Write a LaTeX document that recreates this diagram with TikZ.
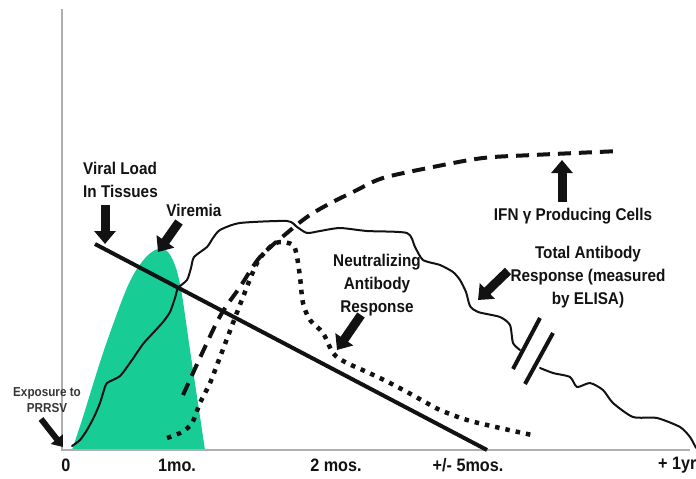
\documentclass[tikz,border=0pt]{standalone}
\usepackage{fontspec}
\setmainfont{Liberation Sans}[FakeStretch=0.9]
\usepackage{tikz}
\usetikzlibrary{arrows.meta, positioning}
\definecolor{AxisColor}{RGB}{175,175,175}
\definecolor{ViremiaColor}{RGB}{24,204,150}
\definecolor{InkColor}{RGB}{18,18,18}
\tikzstyle{axis} = [AxisColor, line width=1.5pt]
\tikzstyle{pointer} = [InkColor, line width=9pt, -{Triangle[length=13pt, width=21pt]}]
\tikzstyle{smallpointer} = [InkColor, line width=6pt, -{Triangle[length=10pt, width=15pt]}]
\tikzset{
  curve label/.style={font=\fontsize{17}{23}\selectfont\bfseries, text=InkColor, align=center, inner sep=0pt},
  small label/.style={font=\fontsize{13}{16}\selectfont\bfseries, text=InkColor!85, align=center, inner sep=0pt},
  tick label/.style={font=\fontsize{18}{20}\selectfont\bfseries, text=InkColor, inner sep=0pt},
  viral load/.style={InkColor, line width=4pt},
  antibody/.style={InkColor, line width=2pt, line join=round, line cap=round},
  ifn/.style={InkColor, line width=4pt, dash pattern=on 13pt off 8pt},
  neutralizing/.style={InkColor, line width=4.5pt, dash pattern=on 4.5pt off 6pt},
  break mark/.style={InkColor, line width=4pt}
}

\begin{document}
\begin{tikzpicture}[x=1pt, y=-1pt]
            \useasboundingbox (0,0) rectangle (696,479);

            % Viremia
            \fill[ViremiaColor] plot[smooth, tension=0.5] coordinates {(72,450) (82,420) (103,353) (124,295) (135,272) (147,256) (158,249) (168,252) (176,268) (182,295) (190,350) (199,410) (205,450)} -- cycle;

            % Axes
            \coordinate (origin) at (62,450);
            \coordinate (top) at (62,9);
            \coordinate (right) at (690,450);
            \draw[axis] (top) -- (origin) -- (right);

            % Viral load in tissues
            \coordinate (load start) at (95,244);
            \coordinate (load end) at (487,450);
            \draw[viral load] (load start) -- (load end);

            % Total antibody response
            \draw[antibody] plot[smooth, tension=0.4] coordinates {(72,446) (80,440) (87,430) (94,417) (100,403) (104,390) (107,383) (120,376) (132,360) (143,344) (153,333) (163,322) (170,312) (175,298) (178,288) (187,280) (191,268) (194,257) (207,247) (213,238) (220,230) (240,223) (287,221) (297,227) (307,233) (320,231) (340,228) (367,231) (407,233) (415,247) (423,260) (440,265) (453,272) (460,280) (466,292) (470,306) (478,312) (500,317) (510,325) (513,343) (520,350)};
            \draw[antibody] plot[smooth, tension=0.4] coordinates {(540,368) (553,373) (570,377) (577,387) (590,383) (603,390) (613,403) (633,417) (657,418) (680,427) (690,437) (696,448)};
            \coordinate (break a1) at (540,318);
            \coordinate (break a2) at (513,369);
            \coordinate (break b1) at (553,333);
            \coordinate (break b2) at (525,384);
            \draw[break mark] (break a1) -- (break a2);
            \draw[break mark] (break b1) -- (break b2);

            % IFN gamma producing cells
            \draw[ifn] plot[smooth, tension=0.5] coordinates {(183,395) (218,320) (240,287) (260,257) (287,233) (307,217) (327,205) (355,191) (383,178) (433,167) (483,158) (533,155) (620,151)};

            % Neutralizing antibody response
            \draw[neutralizing] plot[smooth, tension=0.5] coordinates {(167,438) (182,432) (192,423) (200,403) (210,383) (220,357) (233,323) (243,297) (257,263) (270,247) (280,242) (293,245) (297,257) (300,277) (303,303) (310,320) (323,333) (333,353) (345,362) (367,372) (388,382) (407,392) (425,402) (440,410) (467,420) (500,428) (532,435)};

            % Labels
            \node[curve label, align=left, anchor=west] (load label) at (83,180) {Viral Load\\In Tissues};
            \node[curve label] (viremia label) at (194,210) {Viremia};
            \node[curve label] (ifn label) at (573,216) {IFN γ Producing Cells};
            \node[curve label] (antibody label) at (588,277) {Total Antibody\\Response (measured\\by ELISA)};
            \node[curve label] (neutralizing label) at (377,285) {Neutralizing\\Antibody\\Response};
            \node[small label] (exposure label) at (47,400) {Exposure to\\PRRSV};

            % Pointers
            \coordinate (load tail) at (105,205);
            \coordinate (load tip) at (105,244);
            \coordinate (viremia tail) at (179,222);
            \coordinate (viremia tip) at (158,252);
            \coordinate (neutralizing tail) at (361,315);
            \coordinate (neutralizing tip) at (337,350);
            \coordinate (ifn tail) at (562,202);
            \coordinate (ifn tip) at (562,160);
            \coordinate (antibody tail) at (508,271);
            \coordinate (antibody tip) at (478,300);
            \coordinate (exposure tail) at (41,419);
            \coordinate (exposure tip) at (63,447);
            \foreach \p in {load, viremia, neutralizing, ifn, antibody} {
                    \draw[pointer] (\p\space tail) -- (\p\space tip);
                }
            \draw[smallpointer] (exposure tail) -- (exposure tip);

            % Time axis
            \foreach \x/\t in {66/0, 177/1mo., 336/2 mos., 468/{+/- 5mos.}} {
                    \node[tick label] (tick \x) at (\x,465) {\t};
                }
            \node[tick label, anchor=west] (tick year) at (658,465) {+ 1yr};
        \end{tikzpicture}
\end{document}
